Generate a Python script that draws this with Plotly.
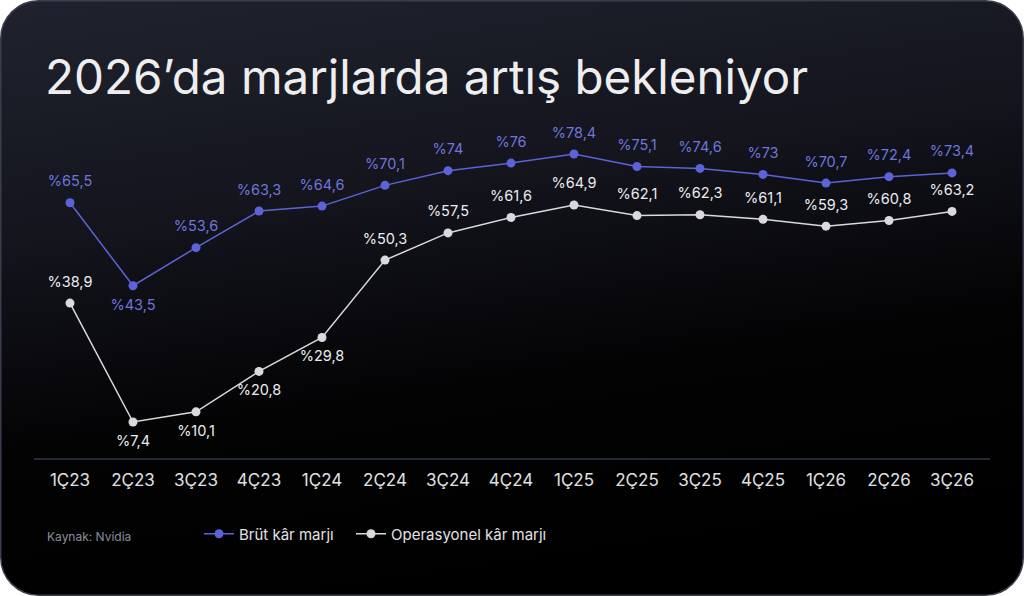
import plotly.graph_objects as go
import urllib.parse

quarters = ["1Ç23", "2Ç23", "3Ç23", "4Ç23", "1Ç24", "2Ç24", "3Ç24", "4Ç24",
            "1Ç25", "2Ç25", "3Ç25", "4Ç25", "1Ç26", "2Ç26", "3Ç26"]
brut = [65.5, 43.5, 53.6, 63.3, 64.6, 70.1, 74.0, 76.0, 78.4, 75.1, 74.6, 73.0, 70.7, 72.4, 73.4]
operasyonel = [38.9, 7.4, 10.1, 20.8, 29.8, 50.3, 57.5, 61.6, 64.9, 62.1, 62.3, 61.1, 59.3, 60.8, 63.2]

brut_pos = ["top center", "bottom center"] + ["top center"] * 13
op_pos = ["top center", "bottom center", "bottom center", "bottom center", "bottom center"] + ["top center"] * 10


def fmt(v):
    s = f"{v:.1f}".rstrip("0").rstrip(".")
    return "%" + s.replace(".", ",")


PURPLE = "#5c63d8"
PURPLE_TXT = "#6f75dc"
WHITE_LINE = "#d9d9de"
WHITE_TXT = "#ececee"
FONT = "Inter"

svg = """<svg xmlns='http://www.w3.org/2000/svg' width='1024' height='596' viewBox='0 0 1024 596'>
<defs>
<linearGradient id='g' x1='0' y1='0' x2='0.25' y2='1'>
<stop offset='0' stop-color='#20232f'/>
<stop offset='0.4' stop-color='#13141c'/>
<stop offset='0.72' stop-color='#030304'/>
<stop offset='1' stop-color='#000000'/>
</linearGradient>
</defs>
<rect x='0' y='0' width='1024' height='596' fill='#ffffff'/>
<rect x='0.75' y='0.75' width='1022.5' height='594.5' rx='38' ry='38' fill='url(#g)' stroke='#3a3d4c' stroke-width='1.5'/>
</svg>"""
bg_uri = "data:image/svg+xml;charset=utf-8," + urllib.parse.quote(svg)

fig = go.Figure()

series = [
    ("Brüt kâr marjı", brut, brut_pos, PURPLE, PURPLE_TXT, "legend"),
    ("Operasyonel kâr marjı", operasyonel, op_pos, WHITE_LINE, WHITE_TXT, "legend2"),
]

for name, vals, pos, lc, tc, leg in series:
    fig.add_trace(go.Scatter(
        x=quarters, y=vals, mode="lines+markers", name=name,
        line=dict(color=lc, width=1.5),
        marker=dict(color=lc, size=9),
        cliponaxis=False, legend=leg,
    ))
    # value labels (transparent, larger marker gives the label offset)
    fig.add_trace(go.Scatter(
        x=quarters, y=vals, mode="markers+text", showlegend=False, hoverinfo="skip",
        marker=dict(color="rgba(0,0,0,0)", size=19),
        text=[fmt(v) for v in vals], textposition=pos,
        textfont=dict(color=tc, size=14.5, family=FONT),
        cliponaxis=False,
    ))

W, H = 1024, 596
x0, x1 = 38.5, 983.5
ybot, ytop = 459, 148

legend_common = dict(
    orientation="h", yanchor="middle", xanchor="left", y=(H - 534) / H,
    font=dict(size=15, color="#e2e2e6", family=FONT),
    bgcolor="rgba(0,0,0,0)", itemwidth=30,
)

fig.update_layout(
    width=W, height=H,
    margin=dict(l=0, r=0, t=0, b=0),
    paper_bgcolor="white",
    plot_bgcolor="rgba(0,0,0,0)",
    font=dict(family=FONT, color=WHITE_TXT),
    showlegend=True,
    legend=dict(x=199 / W, **legend_common),
    legend2=dict(x=351 / W, **legend_common),
    xaxis=dict(
        domain=[x0 / W, x1 / W], type="category", range=[-0.5, 14.5],
        showgrid=False, zeroline=False, showline=False,
        ticks="", ticklabelstandoff=9,
        tickfont=dict(size=17, color="#e0e0e4", family=FONT),
        fixedrange=True,
    ),
    yaxis=dict(
        domain=[(H - ybot) / H, (H - ytop) / H], range=[-2.4, 80],
        showgrid=False, zeroline=False, showticklabels=False, showline=False,
        fixedrange=True,
    ),
    shapes=[dict(
        type="line", xref="paper", yref="paper",
        x0=34 / W, x1=990 / W, y0=(H - ybot) / H, y1=(H - ybot) / H,
        line=dict(color="#2e3848", width=1.5), layer="above",
    )],
    images=[dict(
        source=bg_uri, xref="paper", yref="paper", x=0, y=1, sizex=1, sizey=1,
        xanchor="left", yanchor="top", sizing="stretch", layer="below",
    )],
    annotations=[
        dict(text="2026’da marjlarda artış bekleniyor", xref="paper", yref="paper",
             x=43 / W, y=(H - 77) / H, xanchor="left", yanchor="middle", showarrow=False,
             font=dict(size=47.5, color="#eeeeef", family=FONT)),
        dict(text="Kaynak: Nvidia", xref="paper", yref="paper",
             x=45 / W, y=(H - 536) / H, xanchor="left", yanchor="middle", showarrow=False,
             font=dict(size=12, color="#8a8d9a", family=FONT)),
    ],
)

fig.write_html("out.html", config={"displayModeBar": False},
               post_script="document.body.style.margin='0';document.body.style.overflow='hidden';")
